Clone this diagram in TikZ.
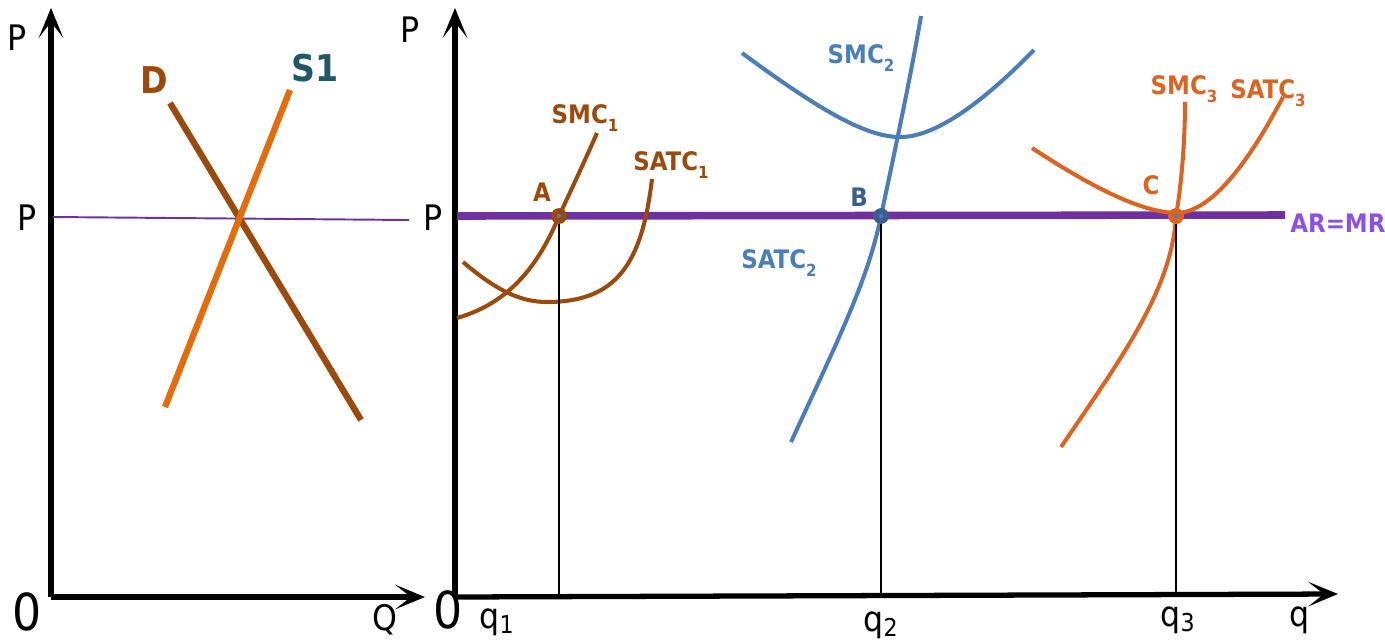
\documentclass[tikz,border=0pt]{standalone}
\usepackage{fontspec}
\setmainfont{DejaVu Sans}
\newfontfamily\axisfont{DejaVu Sans Condensed}
\newfontfamily\labelfont{DejaVu Sans Condensed Bold}
\usetikzlibrary{arrows.meta}
\definecolor{dbrown}{HTML}{9C4A0C}
\definecolor{sorange}{HTML}{E46C0A}
\definecolor{steal}{HTML}{215868}
\definecolor{arpurple}{HTML}{7030A0}
\definecolor{arlabel}{HTML}{8E4FE6}
\definecolor{cblue}{HTML}{4A7EBB}
\definecolor{dotblue}{HTML}{3A5F8E}
\definecolor{corange}{HTML}{DC6420}
\newcommand{\lowsub}[1]{\raisebox{-.55ex}{\fontsize{9.5}{10}\selectfont#1}}
\begin{document}
\begin{tikzpicture}[x=0.02cm,y=-0.02cm,line cap=butt,line join=round,
  axis/.style={line width=3pt,-{Stealth[length=17pt,width=14pt,inset=9pt]}},
  axislabel/.style={font=\axisfont\fontsize{20}{22}\selectfont,inner sep=0pt},
  zerolabel/.style={font=\axisfont\fontsize{29}{30}\selectfont,inner sep=0pt},
  curve/.style={line width=2.3pt},
  curvelabel/.style={font=\labelfont\fontsize{14.5}{15}\selectfont,inner sep=0pt},
  eqdot/.style={circle,fill=#1,inner sep=0pt,minimum size=9pt},
  drop/.style={line width=.8pt,black}]
  \useasboundingbox (0,0) rectangle (1385,643);
  % left panel: market
  \coordinate (O1) at (51,597);
  \coordinate (Ptop1) at (51,8);
  \coordinate (Qend) at (425,597);
  \draw[axis] (O1) -- (Ptop1);
  \draw[axis] (O1) -- (Qend);
  \node[axislabel] (Plab1) at (17,38) {P};
  \node[axislabel] (Pmid1) at (27,218) {P};
  \node[zerolabel] (zero1) at (27,612) {0};
  \node[axislabel] (Qlab) at (385,620) {Q};
  \coordinate (pline1) at (53,217);
  \coordinate (pline2) at (409,220);
  \draw[arpurple,line width=1.1pt] (pline1) -- (pline2);
  \coordinate (Dtop) at (170,103);
  \coordinate (Dbot) at (361,420);
  \coordinate (Stop) at (290,90);
  \coordinate (Sbot) at (165,407);
  \draw[dbrown,line width=3.6pt] (Dtop) -- (Dbot);
  \draw[sorange,line width=3.6pt] (Sbot) -- (Stop);
  \node[font=\labelfont\fontsize{21}{22}\selectfont,dbrown] (Dlab) at (154,80) {D};
  \node[font=\labelfont\fontsize{21}{22}\selectfont,steal] (Slab) at (315,68) {S1};
  % right panel: firms
  \coordinate (O2) at (455,597);
  \coordinate (Ptop2) at (455,8);
  \coordinate (qend) at (1338,594);
  \draw[axis] (O2) -- (Ptop2);
  \draw[axis] (O2) -- (qend);
  \node[axislabel] (Plab2) at (410,30) {P};
  \node[axislabel] (Pmid2) at (433,218) {P};
  \node[zerolabel] (zero2) at (448,610) {0};
  \node[axislabel] (qlab) at (1300,620) {q};
  \coordinate (armr1) at (457,216);
  \coordinate (armr2) at (1285,215);
  \draw[arpurple,line width=4.3pt] (armr1) -- (armr2);
  \node[curvelabel,arlabel,anchor=west] (armrlab) at (1290,223) {AR=MR};
  % firm 1
  \draw[curve,dbrown] (457,318) .. controls (495,307) and (532,282) .. (559,216)
    .. controls (574,184) and (586,158) .. (597,133);
  \draw[curve,dbrown] (463,262) .. controls (498,292) and (522,302) .. (547,302)
    .. controls (618,302) and (642,262) .. (652,179);
  \node[curvelabel,dbrown] (smc1) at (585,118) {SMC\lowsub{1}};
  \node[curvelabel,dbrown] (satc1) at (671,165) {SATC\lowsub{1}};
  % firm 2
  \draw[curve,cblue] (791,442) .. controls (838,340) and (868,280) .. (881,216)
    .. controls (895,150) and (910,80) .. (921,16);
  \draw[curve,cblue] (742,53) .. controls (822,112) and (868,138) .. (902,137)
    .. controls (940,136) and (990,95) .. (1034,50);
  \node[curvelabel,cblue] (smc2) at (861,58) {SMC\lowsub{2}};
  \node[curvelabel,cblue] (satc2) at (779,263) {SATC\lowsub{2}};
  % firm 3
  \draw[curve,corange] (1061,447) .. controls (1120,360) and (1172,290) .. (1176,216)
    .. controls (1183,175) and (1185,130) .. (1185,102);
  \draw[curve,corange] (1032,148) .. controls (1090,186) and (1140,212) .. (1176,213)
    .. controls (1215,213) and (1255,150) .. (1283,97);
  \node[curvelabel,corange] (smc3) at (1184,89) {SMC\lowsub{3}};
  \node[curvelabel,corange] (satc3) at (1268,93) {SATC\lowsub{3}};
  % equilibrium points
  \foreach \name/\xpos/\fillcol/\lx/\ly in {A/559/dbrown/542/192,B/881/dotblue/859/197,C/1176/corange/1151/185} {
    \node[eqdot=\fillcol] (\name) at (\xpos,216) {};
    \fill[cblue] (\name.center) circle (1.2pt);
    \node[curvelabel,text=\fillcol] (lab\name) at (\lx,\ly) {\name};
    \draw[drop] (\name.south) -- (\name |- qend);
  }
  \node[axislabel] (q1) at (497,622) {q\textsubscript{1}};
  \node[axislabel] (q2) at (881,625) {q\textsubscript{2}};
  \node[axislabel] (q3) at (1178,620) {q\textsubscript{3}};
\end{tikzpicture}
\end{document}
